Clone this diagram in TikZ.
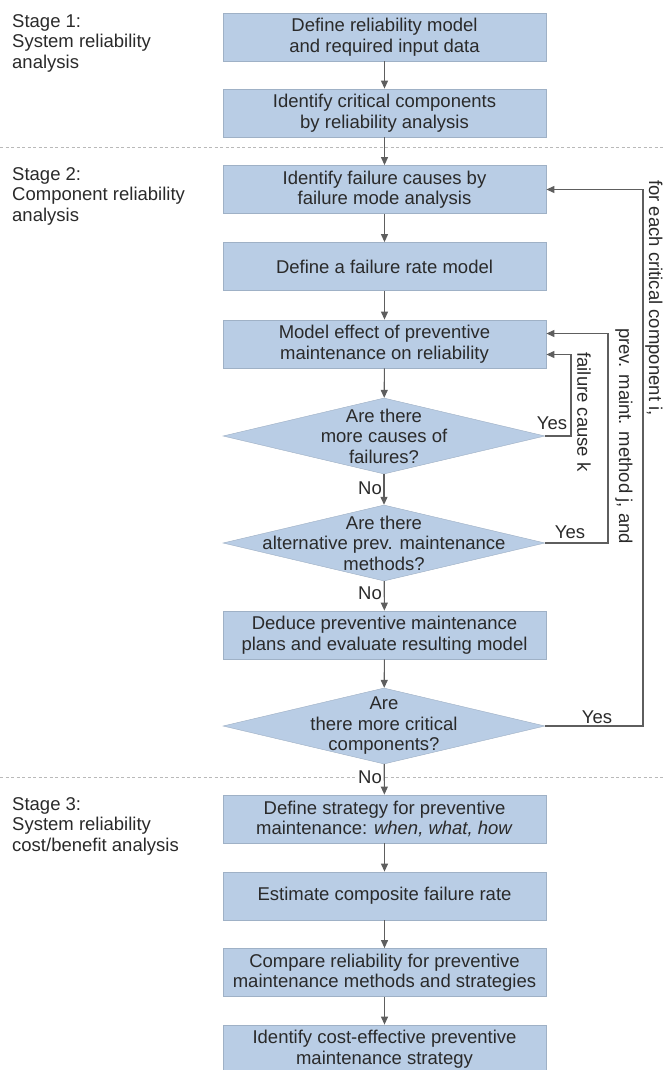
\documentclass[tikz,border=0pt]{standalone}
\usepackage{fontspec}
\setmainfont{Liberation Sans}
\usetikzlibrary{arrows.meta,shapes.geometric,calc}
\definecolor{boxblue}{HTML}{B9CDE5}
\definecolor{boxline}{HTML}{9FB1C6}
\definecolor{arrgray}{HTML}{5E5E5E}
\definecolor{txtgray}{HTML}{2A2A2A}
\newcommand{\flowfont}{\fontsize{18.5}{20.5}\selectfont}
\tikzset{
    box/.style={draw=boxline, line width=0.8pt, fill=boxblue, minimum width=323pt,
        minimum height=48pt, inner sep=0pt, align=center, text=txtgray, font=\flowfont},
    dia/.style={diamond, draw=boxblue!85!black, line width=0.4pt, fill=boxblue,
        minimum width=322pt, minimum height=76pt, inner sep=0pt},
    txt/.style={align=center, text=txtgray, font=\flowfont, inner sep=1pt},
    stagetxt/.style={align=left, text=txtgray, font=\flowfont, inner sep=0pt, anchor=north west},
    looptxt/.style={text=txtgray, font=\flowfont, inner sep=0pt, rotate=-90},
    arr/.style={draw=arrgray, line width=1.1pt, -{Triangle[length=8pt,width=7pt]}},
    sepline/.style={draw=gray!55, line width=0.8pt, dash pattern=on 3pt off 2.5pt}
}
\begin{document}
\begin{tikzpicture}[x=1pt,y=-1pt]
    \useasboundingbox (0,0) rectangle (664,1070);
    % stage borders
    \draw[sepline] (0,147) -- (664,147);
    \draw[sepline] (0,777) -- (664,777);
    \node[stagetxt] (S1) at (12,14) {Stage 1:\\System reliability\\analysis};
    \node[stagetxt] (S2) at (12,167) {Stage 2:\\Component reliability\\analysis};
    \node[stagetxt] (S3) at (12,797) {Stage 3:\\System reliability\\cost/benefit analysis};
    % flow
    \node[box] (B1) at (384.5,37) {Define reliability model\\and required input data};
    \node[box] (B2) at (384.5,113) {Identify critical components\\by reliability analysis};
    \node[box] (B3) at (384.5,189.5) {Identify failure causes by\\failure mode analysis};
    \node[box] (B4) at (384.5,266.5) {Define a failure rate model};
    \node[box] (B5) at (384.5,344) {Model effect of preventive\\maintenance on reliability};
    \node[dia] (D1) at (384,436) {};
    \node[txt] at (D1) {Are there\\more causes of\\failures?};
    \node[dia] (D2) at (384,543) {};
    \node[txt] at (D2) {Are there\\alternative prev. maintenance\\methods?};
    \node[box] (B6) at (384.5,635) {Deduce preventive maintenance\\plans and evaluate resulting model};
    \node[dia] (D3) at (384,726) {};
    \node[txt] at (D3) {Are\\there more critical\\components?};
    \node[box] (B7) at (384.5,819) {Define strategy for preventive\\maintenance: \textit{when, what, how}};
    \node[box] (B8) at (384.5,896) {Estimate composite failure rate};
    \node[box] (B9) at (384.5,972.5) {Compare reliability for preventive\\maintenance methods and strategies};
    \node[box] (B10) at (384.5,1049) {Identify cost-effective preventive\\maintenance strategy};
    % answers
    \node[txt, anchor=east] (N1) at (383,488) {No};
    \node[txt, anchor=east] (N2) at (383,593) {No};
    \node[txt, anchor=east, fill=white] (N3) at (383,777) {No};
    \node[txt] (Y1) at (552,423) {Yes};
    \node[txt] (Y2) at (570,532) {Yes};
    \node[txt] (Y3) at (597,717) {Yes};
    \node[looptxt] (L1) at (584,412) {failure cause k};
    \node[looptxt] (L2) at (624,436) {prev. maint. method j, and};
    \node[looptxt, anchor=base west] (L3) at (649,180) {for each critical component i,};
    \foreach \a/\b in {B1/B2,B2/B3,B3/B4,B4/B5,B5/D1,D1/D2,D2/B6,B6/D3,D3/B7,B7/B8,B8/B9,B9/B10}{
        \draw[arr] (\a) -- (\b);
    }
    \draw[arr] (D1.east) -- (571,436) |- ($(B5.east)+(0,10.5)$);
    \draw[arr] (D2.east) -- (608,543) |- ($(B5.east)+(0,-10.5)$);
    \draw[arr] (D3.east) -- (643,726) |- (B3.east);
\end{tikzpicture}
\end{document}
